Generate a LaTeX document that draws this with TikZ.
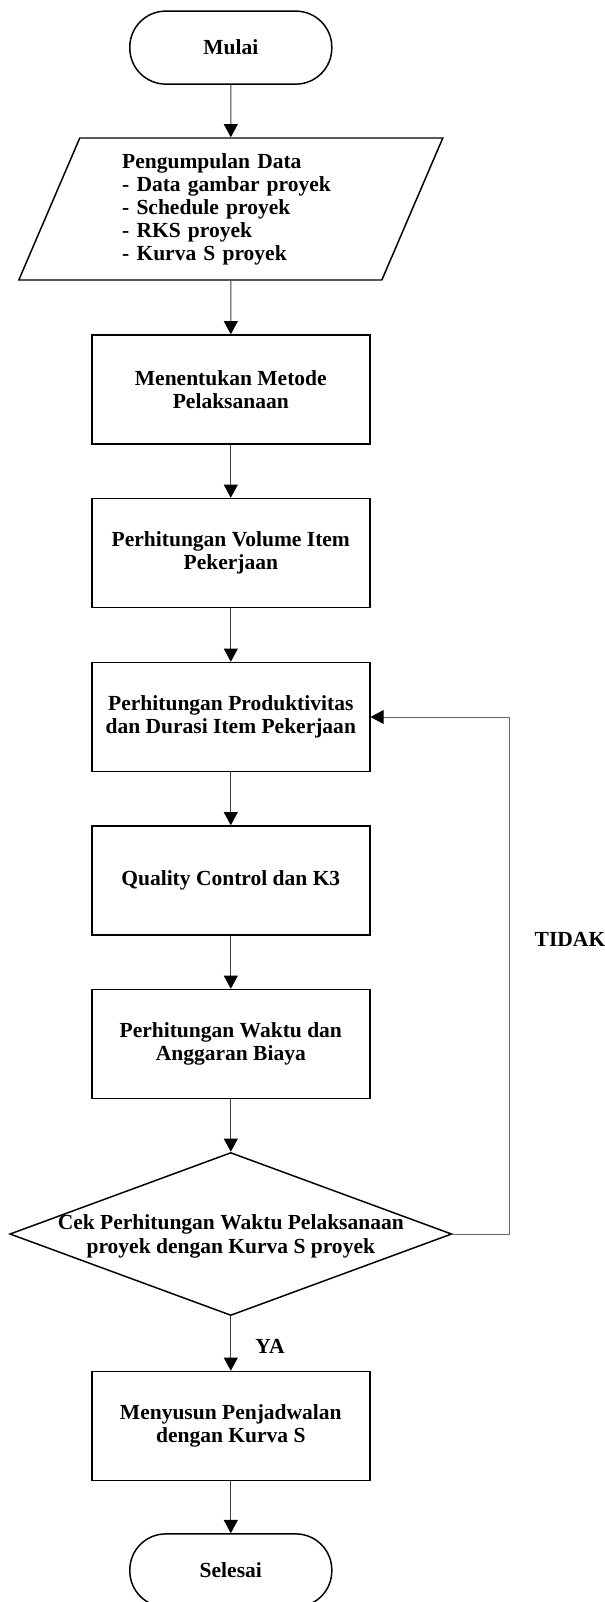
\documentclass[tikz,border=0pt]{standalone}
\usepackage{fontspec}
\setmainfont{Liberation Serif}
\usetikzlibrary{arrows.meta,shapes.geometric}
\tikzset{
	teks/.style={font=\bfseries\fontsize{15.3}{16.4}\selectfont},
	proses/.style={teks,draw,line width=1.05pt,minimum width=6.95cm,minimum height=2.725cm,align=center,inner sep=0pt},
	terminal/.style={teks,draw,line width=1.05pt,rounded corners=0.9cm,minimum width=5.05cm,minimum height=1.825cm,inner sep=0pt},
	masukan/.style={teks,draw,line width=1.05pt,trapezium,trapezium left angle=61.4,trapezium right angle=118.6,trapezium stretches body,minimum width=10.6cm,minimum height=3.55cm,inner sep=0pt,text width=5.43cm,align=left},
	keputusan/.style={draw,line width=1.05pt,diamond,minimum width=11.05cm,minimum height=4.075cm,inner sep=0pt},
	panah/.style={draw=black!75,line width=0.7pt,-{Triangle[width=0.35cm,length=0.33cm,color=black]}},
	balikan/.style={draw=black!60,line width=0.7pt,-{Triangle[width=0.35cm,length=0.33cm,color=black]}}
}
\begin{document}
\begin{tikzpicture}
	   \useasboundingbox (0,0) rectangle (15.125,-40.05);
	   \node [terminal] (mulai) at (5.77,-1.19) {Mulai};
	   \node [masukan] (data) at (5.77,-5.225) {Pengumpulan Data\\- Data gambar proyek\\- Schedule proyek\\- RKS proyek\\- Kurva S proyek};
	   \node [proses] (metode) at (5.77,-9.7375) {Menentukan Metode\\Pelaksanaan};
	   \node [proses] (volume) at (5.77,-13.825) {Perhitungan Volume Item\\Pekerjaan};
	   \node [proses] (prod) at (5.77,-17.925) {Perhitungan Produktivitas\\dan Durasi Item Pekerjaan};
	   \node [proses] (k3) at (5.77,-22.0125) {Quality Control dan K3};
	   \node [proses] (biaya) at (5.77,-26.1) {Perhitungan Waktu dan\\Anggaran Biaya};
	   \node [keputusan] (cek) at (5.77,-30.85) {};
	   \node [teks,align=center] (cekteks) at (5.77,-30.91) {Cek Perhitungan Waktu Pelaksanaan\\proyek dengan Kurva S proyek};
	   \node [proses] (jadwal) at (5.77,-35.65) {Menyusun Penjadwalan\\dengan Kurva S};
	   \node [terminal] (selesai) at (5.77,-39.26) {Selesai};
	   \coordinate (balik) at (12.73,-30.85);
	   \draw[panah] (mulai) -- (data);
	   \draw[panah] (data) -- (metode);
	   \draw[panah] (metode) -- (volume);
	   \draw[panah] (volume) -- (prod);
	   \draw[panah] (prod) -- (k3);
	   \draw[panah] (k3) -- (biaya);
	   \draw[panah] (biaya) -- (cek);
	   \draw[panah] (cek) -- (jadwal);
	   \draw[panah] (jadwal) -- (selesai);
	   \draw[balikan] (cek.east) -- (balik) |- (prod.east);
	   \node [teks] (ya) at (6.75,-33.65) {YA};
	   \node [teks] (tidak) at (14.25,-23.475) {TIDAK};
\end{tikzpicture}
\end{document}
